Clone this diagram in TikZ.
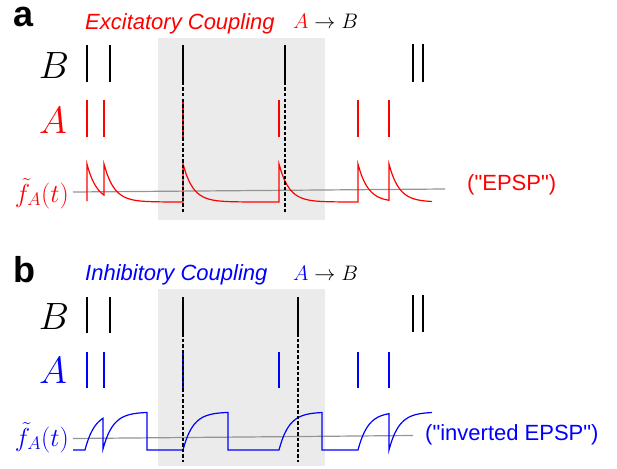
\RequirePackage{fix-cm}
\documentclass[tikz,border=0pt]{standalone}
\usepackage{fontspec}
\newfontfamily\arialfont{Liberation Sans}
\usepackage{tikz}
\usetikzlibrary{positioning}

\begin{document}
\begin{tikzpicture}[x=1pt,y=-1pt,samples=30,
    spike/.style={line width=2.4pt},
    trace/.style={line width=1.2pt},
    window/.style={fill=black!8},
    zero/.style={black!42,line width=1.2pt},
    pulse/.style={line width=2pt,dash pattern=on 3.5pt off 2pt},
    panel/.style={font=\arialfont\bfseries\fontsize{36}{40}\selectfont,anchor=base west,inner sep=0pt},
    heading/.style={font=\arialfont\itshape\fontsize{22}{26}\selectfont,anchor=base west,inner sep=0pt},
    note/.style={font=\arialfont\fontsize{22}{26}\selectfont,anchor=base west,inner sep=0pt},
    neuron/.style={font=\fontsize{38}{42}\selectfont,anchor=base,inner sep=0pt},
    kernel/.style={font=\fontsize{26}{30}\selectfont,anchor=base east,inner sep=0pt}]
  \useasboundingbox (0,0) rectangle (617,468);

  % panel a: excitatory
  \fill[window] (158,38) rectangle (325,220);
  \node[panel] (pa) at (13,27) {a};
  \node[heading,red] (titlea) at (85,30) {Excitatory Coupling};
  \node[anchor=base west,inner sep=0pt,font=\fontsize{21}{25}\selectfont] (dira) at (293,29) {$\textcolor{red}{A}\to B$};
  \node[neuron] (Ba) at (54,79) {$B$};
  \node[neuron,red] (Aa) at (53,133) {$A$};
  \node[kernel,red] (fa) at (69,202) {$\tilde{f}_A(t)$};
  \node[note,red] (epsp) at (467,190) {("EPSP")};

  \draw[spike] (87,45) -- (87,82) (110,45) -- (110,82) (183,45) -- (183,82)
    (285,45) -- (285,82) (413,44) -- (413,82) (423,44) -- (423,82);
  \draw[spike,red] (87,100) -- (87,137) (104,100) -- (104,137) (183,100) -- (183,137)
    (279,100) -- (279,137) (358,100) -- (358,137) (389,100) -- (389,137);
  \draw[zero] (73,192) -- (445,189);
  \draw[trace,red] (87,201) -- (87,164)
    -- plot[domain=0:17] ({87+\x},{202-38*exp(-\x/10)}) -- (104,164)
    -- plot[domain=0:79] ({104+\x},{202-38*exp(-\x/10)}) -- (183,164)
    -- plot[domain=0:96] ({183+\x},{202-38*exp(-\x/10)}) -- (279,164)
    -- plot[domain=0:79] ({279+\x},{202-38*exp(-\x/10)}) -- (358,164)
    -- plot[domain=0:31] ({358+\x},{202-38*exp(-\x/10)}) -- (389,164)
    -- plot[domain=0:43] ({389+\x},{202-38*exp(-\x/10)});
  \draw[pulse] (183,82) -- (183,212) (285,82) -- (285,212);

  % panel b: inhibitory
  \fill[window] (158,289) rectangle (325,466);
  \node[panel] (pb) at (13,282) {b};
  \node[heading,blue] (titleb) at (85,280) {Inhibitory Coupling};
  \node[anchor=base west,inner sep=0pt,font=\fontsize{21}{25}\selectfont] (dirb) at (293,280) {$\textcolor{blue}{A}\to B$};
  \node[neuron] (Bb) at (54,329) {$B$};
  \node[neuron,blue] (Ab) at (53,383) {$A$};
  \node[kernel,blue] (fb) at (69,446) {$\tilde{f}_A(t)$};
  \node[note,blue] (iepsp) at (425,440) {("inverted EPSP")};

  \draw[spike] (87,297) -- (87,333) (110,297) -- (110,333) (183,297) -- (183,333)
    (298,297) -- (298,333) (413,295) -- (413,332) (423,295) -- (423,332);
  \draw[spike,blue] (87,352) -- (87,388) (104,352) -- (104,388) (183,352) -- (183,388)
    (279,352) -- (279,388) (358,352) -- (358,388) (389,352) -- (389,388);
  \draw[zero] (73,438.5) -- (413,435.5);
  \draw[trace,blue] (73,450) -- (85,450)
    -- plot[domain=0:18] ({85+\x},{450-38*(1-exp(-\x/10))}) -- (103,449)
    -- plot[domain=0:44] ({103+\x},{449-37*(1-exp(-\x/10))}) -- (147,450) -- (183,450)
    -- plot[domain=0:45] ({183+\x},{450-38*(1-exp(-\x/10))}) -- (228,450) -- (279,450)
    -- plot[domain=0:43] ({279+\x},{450-38*(1-exp(-\x/10))}) -- (322,450) -- (358,450)
    -- plot[domain=0:31] ({358+\x},{450-38*(1-exp(-\x/10))}) -- (389,450)
    -- plot[domain=0:43] ({389+\x},{450-38*(1-exp(-\x/10))});
  \draw[pulse] (183,333) -- (183,462) (298,333) -- (298,462);
\end{tikzpicture}
\end{document}
